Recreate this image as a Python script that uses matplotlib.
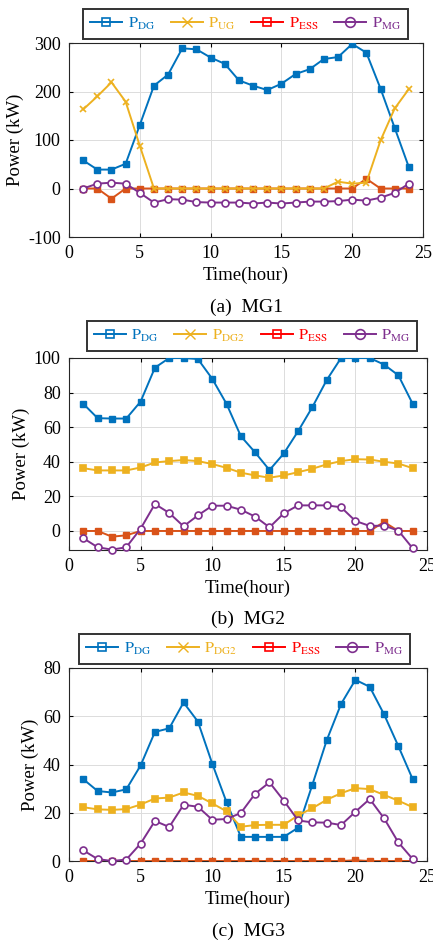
import matplotlib
matplotlib.use('Agg')
import matplotlib.pyplot as plt
from matplotlib.lines import Line2D

plt.rcParams['font.family'] = ['Liberation Serif', 'DejaVu Serif']
plt.rcParams['mathtext.fontset'] = 'stix'
plt.rcParams['axes.unicode_minus'] = False

hours = list(range(1, 25))

# (a) MG1
mg1_dg = [58, 39, 39, 51, 131, 212, 235, 289, 287, 270, 257, 223, 212, 203, 216, 236,
          246, 267, 271, 298, 280, 206, 125, 44]
mg1_ug = [163, 190, 219, 179, 88, 0, 0, 0, 0, 0, 0, 0, 0, 0, 0, 0,
          0, 0, 14, 10, 12, 99, 165, 205]
mg1_ess = [0, 0, -21, 0, 0, 0, 0, 0, 0, 0, 0, 0, 0, 0, 0, 0,
           0, 0, 0, 0, 20, 0, 0, 0]
mg1_mg = [0, 10, 12, 10, -9, -29, -22, -23, -28, -29, -29, -29, -31, -29, -31, -29,
          -27, -27, -26, -23, -25, -19, -9, 10]

# (b) MG2
mg2_dg = [73.5, 65.2, 65, 65, 74.8, 94.4, 100, 100, 99.4, 88, 73.5, 54.8, 45.4, 35.2, 44.8, 57.7,
          71.7, 87.3, 100, 100, 100, 96.2, 90, 73.5]
mg2_dg2 = [36.3, 35, 35, 35, 36.7, 39.6, 40.4, 41, 40.4, 38.7, 36.5, 33.7, 32.1, 30.8, 32.1, 34,
           36, 38.5, 40.4, 41.5, 41.3, 40, 39, 36.3]
mg2_ess = [0, 0, -3.3, -2.5, 0, 0, 0, 0, 0, 0, 0, 0, 0, 0, 0, 0,
           0, 0, 0, 0, 0, 5.2, 0, 0]
mg2_mg = [-4.2, -9.4, -10.8, -9.4, 1.3, 15.6, 10.4, 2.7, 9, 14.6, 14.6, 12.3, 8.3, 2.1, 10.2, 14.8,
          14.8, 14.8, 13.7, 5.8, 2.9, 3.1, 0.2, -10]

# (c) MG3
mg3_dg = [33.9, 29, 28.4, 29.7, 39.6, 53.5, 55, 65.7, 57.8, 40.4, 24.4, 10, 10, 10, 10, 13.8,
          31.7, 50.1, 65.1, 75.1, 72.2, 60.8, 47.6, 33.9]
mg3_dg2 = [22.3, 21.4, 21.2, 21.5, 23.4, 25.9, 26.3, 28.4, 27, 23.9, 20.6, 14.2, 14.9, 15, 15, 18.9,
           21.9, 25.4, 28.1, 30.2, 29.8, 27.4, 25, 22.3]
mg3_ess = [0, 0, 0, 0, 0, 0, 0, 0, 0, 0, 0, 0, 0, 0, 0, 0,
           0, 0, 0, 0.3, 0, 0, 0, 0]
mg3_mg = [4.4, 0.8, 0, 0.6, 7.2, 16.6, 14.1, 23.3, 22.5, 17.1, 17.4, 19.9, 27.9, 32.6, 25, 16.8,
          16, 15.9, 14.9, 20.4, 25.7, 17.7, 7.7, 0.8]

c_dg = '#0072BD'
c_ug = '#EDB120'
c_ess = '#D95319'
c_mg = '#7E2F8E'
c_ess_leg = '#FF0000'

W, H = 433, 944
fig = plt.figure(figsize=(W / 100, H / 100), dpi=100)


def box(l, r, t, b):
    return [l / W, 1 - b / H, (r - l) / W, (b - t) / H]


def panel(rect, legrect, dg, second, ess, mg, second_name, second_marker, ylim, yticks, title):
    ax = fig.add_axes(box(*rect))
    ax.plot(hours, dg, color=c_dg, lw=1.4, marker='s', ms=4, mfc=c_dg, mec=c_dg, zorder=3)
    ax.plot(hours, ess, color=c_ess, lw=1.4, marker='s', ms=4, mfc=c_ess, mec=c_ess, zorder=3)
    ax.plot(hours, second, color=c_ug, lw=1.4, marker=second_marker, ms=4, mfc=c_ug, mec=c_ug,
            mew=1.2, zorder=3)
    ax.plot(hours, mg, color=c_mg, lw=1.4, marker='o', ms=5, mfc='white', mec=c_mg, mew=1.2,
            zorder=4, clip_on=False)
    ax.set_xlim(0, 25)
    ax.set_ylim(*ylim)
    ax.set_xticks([0, 5, 10, 15, 20, 25])
    ax.set_yticks(yticks)
    ax.grid(True, color='#dcdcdc', lw=0.7)
    ax.set_axisbelow(True)
    ax.tick_params(direction='in', labelsize=13, length=3, top=True, right=True, pad=6)
    for s in ax.spines.values():
        s.set_color('#262626')
        s.set_linewidth(0.8)
    ax.set_xlabel('Time(hour)', fontsize=13.5, labelpad=3)
    ax.set_ylabel('Power (kW)', fontsize=13.5, labelpad=3)
    ax.set_title(title, fontsize=14, y=-0.43)

    handles = [
        Line2D([], [], color=c_dg, lw=1.4, marker='s', ms=6, mfc='none', mec=c_dg, mew=1.2),
        Line2D([], [], color=c_ug, lw=1.4, marker='x', ms=7, mec=c_ug, mew=1.0),
        Line2D([], [], color=c_ess_leg, lw=1.4, marker='s', ms=6, mfc='none', mec=c_ess_leg, mew=1.2),
        Line2D([], [], color=c_mg, lw=1.4, marker='o', ms=7, mfc='none', mec=c_mg, mew=1.2),
    ]
    labels = [r'$\mathrm{P_{DG}}$', second_name, r'$\mathrm{P_{ESS}}$', r'$\mathrm{P_{MG}}$']
    l, r, t, b = legrect
    leg = fig.legend(handles, labels, loc='center', ncol=4, frameon=True, fancybox=False,
                     fontsize=11.5, handlelength=2.0, handletextpad=0.35, columnspacing=1.0,
                     borderpad=0.45, borderaxespad=0,
                     bbox_to_anchor=((l + r) / 2 / W, 1 - (t + b) / 2 / H))
    leg.get_frame().set_edgecolor('black')
    leg.get_frame().set_linewidth(1.4)
    for txt, c in zip(leg.get_texts(), [c_dg, c_ug, c_ess_leg, c_mg]):
        txt.set_color(c)
    return ax


panel((69, 423, 43, 237), (84, 407, 8, 40), mg1_dg, mg1_ug, mg1_ess, mg1_mg,
      r'$\mathrm{P_{UG}}$', 'x', (-100, 300), [-100, 0, 100, 200, 300], '(a)  MG1')
panel((69, 427, 358, 550), (90, 414, 320, 352), mg2_dg, mg2_dg2, mg2_ess, mg2_mg,
      r'$\mathrm{P_{DG2}}$', 's', (-11, 100), [0, 20, 40, 60, 80, 100], '(b)  MG2')
panel((69, 427, 668, 861), (83, 406, 633, 665), mg3_dg, mg3_dg2, mg3_ess, mg3_mg,
      r'$\mathrm{P_{DG2}}$', 's', (0, 80), [0, 20, 40, 60, 80], '(c)  MG3')

fig.savefig('out.png', dpi=100)
